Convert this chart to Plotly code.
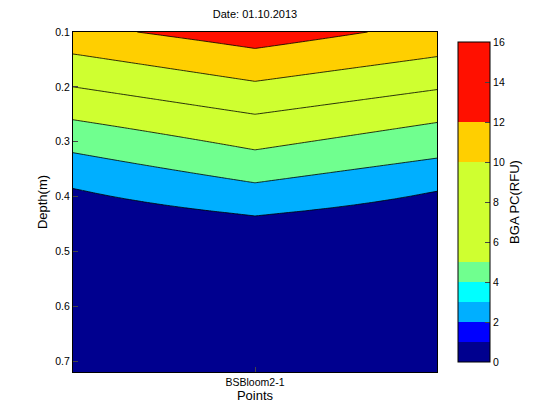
import numpy as np
import plotly.graph_objects as go

# point positions and label
points_x = [1, 2, 3]
tick_label = "BSBloom2-1"

# contour levels and where each crosses depth, per column (left, middle, right)
levels = [13.0, 12, 10, 8, 6, 4, 2, 0.6, 0.5]
depth_left = [0.06, 0.085, 0.14, 0.20, 0.26, 0.32, 0.385, 0.45, 0.72]
depth_mid = [0.10, 0.13, 0.19, 0.25, 0.315, 0.375, 0.435, 0.50, 0.72]
depth_right = [0.045, 0.08, 0.145, 0.205, 0.265, 0.33, 0.39, 0.455, 0.72]

depth = np.linspace(0.1, 0.72, 117)
cols = []
for d in (depth_left, depth_mid, depth_right):
    cols.append(np.interp(depth, d, levels))
z = np.array(cols).T

# band colours (by band midpoint), colorbar colours
cs_fill = [[0, '#00008f'], [0.125, '#00008f'], [0.125, '#00afff'], [0.25, '#00afff'],
           [0.25, '#70ff8f'], [0.375, '#70ff8f'], [0.375, '#cfff30'], [0.625, '#cfff30'],
           [0.625, '#ffcf00'], [0.75, '#ffcf00'], [0.75, '#ff1000'], [1, '#ff1000']]
cb_steps = [(0, 1, '#00008f'), (1, 2, '#0000ff'), (2, 3, '#00afff'), (3, 4, '#00ffff'),
            (4, 5, '#70ff8f'), (5, 10, '#cfff30'), (10, 12, '#ffcf00'), (12, 16, '#ff1000')]
cs_bar = []
for a, b, c in cb_steps:
    cs_bar += [[a / 16, c], [b / 16, c]]

fig = go.Figure()
fig.add_trace(go.Contour(x=points_x, y=depth, z=z, colorscale=cs_fill, zmin=0, zmax=16,
                         contours=dict(start=2, end=14, size=2, coloring='fill'),
                         line=dict(color='black', width=0.8, smoothing=0), showscale=False))
fig.add_trace(go.Heatmap(x=[1, 1], y=[0.1, 0.1], z=[[0, 16]], colorscale=cs_bar, zmin=0, zmax=16,
                         opacity=0, hoverinfo='skip',
                         colorbar=dict(x=1.03, xanchor='left', y=0, yanchor='bottom', len=1,
                                       thickness=32, outlinecolor='black', outlinewidth=1,
                                       tickvals=list(range(0, 17, 2)), ticks='inside',
                                       title=dict(text='BGA PC(RFU)', side='right'))))
fig.update_layout(width=560, height=420, margin=dict(l=65, r=131, t=24, b=56, autoexpand=False),
                  paper_bgcolor='white', plot_bgcolor='white',
                  font=dict(family='Liberation Sans', size=10.5, color='black'),
                  title=dict(text='Date: 01.10.2013', x=0.5, xref='paper', y=0.995, yanchor='top',
                             font=dict(size=11)))
fig.update_xaxes(range=[1, 3], tickvals=[2], ticktext=[tick_label], ticks='inside',
                 title=dict(text='Points', standoff=0), showline=True, linecolor='black', mirror=True)
fig.update_yaxes(range=[0.72, 0.1], tickvals=[0.1, 0.2, 0.3, 0.4, 0.5, 0.6, 0.7], ticks='inside',
                 tickformat='.1f', title=dict(text='Depth(m)', standoff=4), showline=True,
                 linecolor='black', mirror=True, showgrid=False)
fig.write_html("out.html")
